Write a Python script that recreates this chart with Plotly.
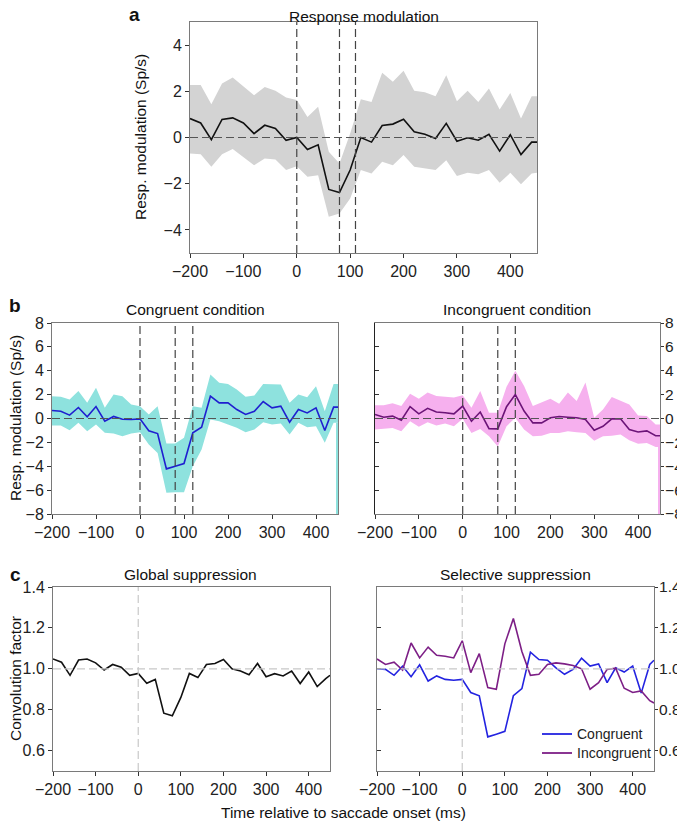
import plotly.graph_objects as go

# page body has an 8px margin: the figure is sized to fill the rest of the window
OFF = 8
W, H = 685 - OFF, 823 - OFF

# ---------------- data ----------------
time = [-200, -180, -160, -140, -120, -100, -80, -60, -40, -20, 0, 20, 40, 60, 80, 100,
        120, 140, 160, 180, 200, 220, 240, 260, 280, 300, 320, 340, 360, 380, 400, 420, 440, 450]

# panel a: response modulation (all trials)
a_mean = [0.82, 0.63, -0.09, 0.78, 0.85, 0.63, 0.17, 0.53, 0.39, -0.12, 0.0, -0.52, -0.32, -2.25, -2.38, -1.41,
          0.0, -0.2, 0.52, 0.58, 0.79, 0.25, 0.14, -0.04, 0.61, -0.16, -0.01, -0.12, 0.14, -0.59, 0.12, -0.74, -0.2, -0.2]
a_upper = [2.27, 2.27, 1.44, 2.34, 2.6, 2.22, 1.83, 2.19, 2.02, 1.73, 1.62, 0.89, 1.33, -0.62, -1.13, 0.17,
           1.66, 1.54, 2.8, 2.41, 2.89, 2.02, 1.96, 1.79, 2.7, 1.57, 2.02, 1.54, 2.12, 1.21, 1.93, 0.82, 1.79, 1.79]
a_lower = [-0.69, -0.72, -1.27, -0.72, -0.5, -0.84, -1.2, -0.91, -0.95, -1.41, -1.24, -1.7, -1.63, -3.43, -3.29, -2.64,
           -1.41, -1.56, -1.05, -1.2, -0.76, -1.27, -1.34, -1.41, -0.98, -1.67, -1.53, -1.59, -1.41, -1.96, -1.53, -2.02, -1.56, -1.53]

# panel b: congruent condition
con_mean = [0.67, 0.61, 0.28, 0.92, 0.14, 1.0, -0.22, 0.17, -0.06, -0.08, -0.03, -1.03, -1.26, -4.22, -4.0, -3.77,
            -1.2, -0.73, 1.87, 1.31, 1.31, 0.75, 0.34, 0.61, 1.42, 0.89, 1.03, -0.31, 0.75, 0.47, 0.89, -1.0, 0.95, 0.95]
con_upper = [1.87, 1.82, 1.6, 2.3, 1.31, 2.57, 0.9, 2.0, 1.87, 1.17, 1.03, 0.34, 1.03, -2.1, -2.1, -1.62,
             1.03, 0.9, 3.69, 3.0, 2.9, 2.43, 1.82, 1.93, 2.9, 2.85, 2.85, 1.31, 2.0, 1.79, 2.7, 0.61, 2.9, 2.9]
con_lower = [-0.59, -0.59, -0.98, -0.36, -1.06, -0.5, -1.2, -1.26, -1.48, -1.26, -1.15, -2.18, -2.88, -6.23, -6.17, -6.17,
             -4.0, -2.6, -0.08, -0.22, -0.5, -0.78, -1.15, -0.92, -0.31, -0.5, -0.42, -1.34, -0.36, -0.73, -0.64, -2.04, -0.36, -0.36]

# panel b: incongruent condition
inc_mean = [0.34, 0.11, 0.2, -0.14, 0.99, 0.39, 0.85, 0.54, 0.48, 0.39, 1.04, -0.23, 0.54, -0.85, -0.87, 0.99,
            2.0, 0.62, -0.37, -0.37, 0.06, 0.17, 0.11, 0.06, -0.08, -0.99, -0.65, -0.03, -0.03, -0.93, -1.13, -1.04, -1.44, -1.44]
inc_upper = [1.1, 1.1, 1.27, 1.04, 2.08, 1.66, 2.17, 1.89, 1.83, 1.75, 1.94, 0.9, 2.31, 0.48, 0.48, 2.65,
             4.0, 2.73, 1.04, 1.32, 1.66, 1.24, 2.17, 1.46, 3.01, 0.06, 0.76, 1.8, 1.52, 1.18, 0.25, 0.2, -0.51, -0.51]
inc_lower = [-0.93, -0.87, -0.79, -1.07, -0.23, -0.7, -0.31, -0.59, -0.42, -0.65, -0.03, -1.21, -0.87, -1.49, -2.34, -0.65,
             0.06, -0.93, -1.49, -1.44, -1.21, -1.21, -1.07, -1.15, -1.21, -1.86, -1.49, -1.44, -1.35, -1.83, -2.11, -2.06, -2.39, -2.39]

# panel c: convolution factors
glob = [1.048, 1.032, 0.968, 1.043, 1.048, 1.029, 0.994, 1.021, 1.008, 0.968, 0.977, 0.929, 0.948, 0.783, 0.77, 0.86,
        0.977, 0.957, 1.021, 1.026, 1.045, 1.0, 0.989, 0.971, 1.026, 0.961, 0.976, 0.965, 0.989, 0.928, 0.984, 0.913, 0.952, 0.968]
sel_con = [1.0, 0.997, 0.968, 1.013, 0.961, 1.019, 0.94, 0.965, 0.948, 0.944, 0.948, 0.884, 0.868, 0.667, 0.68, 0.694,
           0.868, 0.903, 1.081, 1.045, 1.042, 1.005, 0.973, 0.997, 1.052, 1.013, 1.024, 0.932, 1.005, 0.984, 1.013, 0.881, 1.021, 1.042]
sel_inc = [1.048, 1.021, 1.032, 0.994, 1.126, 1.053, 1.106, 1.066, 1.061, 1.053, 1.137, 0.981, 1.074, 0.908, 0.9, 1.122,
           1.246, 1.085, 0.968, 0.973, 1.021, 1.029, 1.024, 1.016, 1.0, 0.9, 0.932, 0.997, 1.003, 0.905, 0.884, 0.892, 0.844, 0.833]

series_names = ["Congruent", "Incongruent"]
series_colors = ["#2323e0", "#7d1f86"]

x_ticks = [-200, -100, 0, 100, 200, 300, 400]
a_yticks = [-4, -2, 0, 2, 4]
b_yticks = [-8, -6, -4, -2, 0, 2, 4, 6, 8]
c_yticks = [0.6, 0.8, 1.0, 1.2, 1.4]
a_events = [0, 80, 110]
b_events = [0, 80, 120]
a_range = [-5, 5]
b_range = [-8, 8]
c_range = [0.5, 1.4]

# ---------------- layout helpers ----------------
def px(x):
    return (x - OFF) / W

def py(y):
    return 1 - (y - OFF) / H

FONT = "Liberation Sans, Arial, Helvetica, sans-serif"
AXC = "#7a7a7a"
TICKC = "#333333"
TICKSIZE = 16
TITLESIZE = 15.5

fig = go.Figure()

def band(xa, ya, upper, lower, color):
    fig.add_trace(go.Scatter(x=time, y=upper, mode="lines", line=dict(width=0), xaxis=xa, yaxis=ya,
                             showlegend=False, hoverinfo="skip"))
    fig.add_trace(go.Scatter(x=time, y=lower, mode="lines", line=dict(width=0), fill="tonexty",
                             fillcolor=color, xaxis=xa, yaxis=ya, showlegend=False, hoverinfo="skip"))
    # the shaded band spills down to the axis floor at the last time point
    fig.add_trace(go.Scatter(x=[time[-1], time[-1]], y=[lower[-1], b_range[0]], mode="lines",
                             line=dict(color=color, width=4), xaxis=xa, yaxis=ya,
                             showlegend=False, hoverinfo="skip"))

def line(xa, ya, yv, color, name=None, width=1.6):
    fig.add_trace(go.Scatter(x=time, y=yv, mode="lines", line=dict(color=color, width=width),
                             xaxis=xa, yaxis=ya, name=name, showlegend=False, hoverinfo="skip"))

# panel a
fig.add_trace(go.Scatter(x=time, y=a_upper, mode="lines", line=dict(width=0), xaxis="x", yaxis="y",
                         showlegend=False, hoverinfo="skip"))
fig.add_trace(go.Scatter(x=time, y=a_lower, mode="lines", line=dict(width=0), fill="tonexty",
                         fillcolor="rgb(211,211,211)", xaxis="x", yaxis="y", showlegend=False, hoverinfo="skip"))
line("x", "y", a_mean, "#111111")
# panel b left
band("x2", "y2", con_upper, con_lower, "rgb(142,226,222)")
line("x2", "y2", con_mean, "#1f1fd0")
# panel b right
band("x3", "y3", inc_upper, inc_lower, "rgb(246,176,238)")
line("x3", "y3", inc_mean, "#6c1478")
# panel c left
line("x4", "y4", glob, "#111111")
# panel c right
line("x5", "y5", sel_con, series_colors[0], name=series_names[0])
line("x5", "y5", sel_inc, series_colors[1], name=series_names[1])
# helper traces for left-side inward tick axes of right panels
fig.add_trace(go.Scatter(x=[time[0]], y=[0], mode="markers", marker=dict(opacity=0), xaxis="x3", yaxis="y6",
                         showlegend=False, hoverinfo="skip"))
fig.add_trace(go.Scatter(x=[time[0]], y=[1.0], mode="markers", marker=dict(opacity=0), xaxis="x5", yaxis="y7",
                         showlegend=False, hoverinfo="skip"))

tickfont = dict(family=FONT, size=TICKSIZE, color="#222222")

def xax(dom, anchor):
    return dict(domain=dom, anchor=anchor, range=[-200, 450], tickvals=x_ticks, ticks="outside", ticklen=4,
                tickcolor=TICKC, showline=True, linecolor=AXC, linewidth=1, mirror=True, showgrid=False,
                zeroline=False, tickfont=tickfont)

def yax(dom, anchor, rng, tv, side="left", fmt=None):
    d = dict(domain=dom, anchor=anchor, range=rng, tickvals=tv, ticks="outside", ticklen=4,
             tickcolor=TICKC, showline=True, linecolor=AXC, linewidth=1, mirror=True, showgrid=False,
             zeroline=False, tickfont=tickfont, side=side)
    if fmt:
        d["tickformat"] = fmt
    if side == "right":
        d["ticklen"] = 3
        d["ticklabelstandoff"] = -2
        d["tickfont"] = dict(family=FONT, size=15.5, color="#222222")
    return d

dom_a_x = [px(190), px(537)]
dom_a_y = [py(253), py(22)]
dom_bl_x = [px(52), px(338)]
dom_br_x = [px(375), px(660)]
dom_b_y = [py(514), py(323)]
dom_cl_x = [px(53), px(330)]
dom_cr_x = [px(377), px(654)]
dom_c_y = [py(771), py(587)]

fig.update_layout(
    xaxis=xax(dom_a_x, "y"), yaxis=yax(dom_a_y, "x", a_range, a_yticks),
    xaxis2=xax(dom_bl_x, "y2"), yaxis2=yax(dom_b_y, "x2", b_range, b_yticks),
    xaxis3=xax(dom_br_x, "y3"), yaxis3=yax(dom_b_y, "x3", b_range, b_yticks, side="right"),
    xaxis4=xax(dom_cl_x, "y4"), yaxis4=yax(dom_c_y, "x4", c_range, c_yticks, fmt=".1f"),
    xaxis5=xax(dom_cr_x, "y5"), yaxis5=yax(dom_c_y, "x5", c_range, c_yticks, side="right", fmt=".1f"),
    yaxis6=dict(overlaying="y3", side="left", anchor="x3", range=b_range, tickvals=b_yticks, ticks="inside",
                ticklen=4, tickcolor=TICKC, showticklabels=False, showline=True, linecolor="#222222",
                showgrid=False, zeroline=False),
    yaxis7=dict(overlaying="y5", side="left", anchor="x5", range=c_range, tickvals=c_yticks, ticks="inside",
                ticklen=4, tickcolor=TICKC, showticklabels=False, showline=True, linecolor=AXC,
                showgrid=False, zeroline=False),
)

shapes = []
DASH = "8px,4px"
def vdash(xref, yref, xv, color, width=1.2):
    shapes.append(dict(type="line", xref=xref, yref=yref + " domain", x0=xv, x1=xv, y0=0, y1=1,
                       line=dict(color=color, width=width, dash=DASH)))

def hdash(xref, yref, yv, color, width=1.2):
    shapes.append(dict(type="line", xref=xref + " domain", yref=yref, x0=0, x1=1, y0=yv, y1=yv,
                       line=dict(color=color, width=width, dash=DASH)))

for e in a_events:
    vdash("x", "y", e, "#444444")
hdash("x", "y", 0, "#555555")
for xr, yr in [("x2", "y2"), ("x3", "y3")]:
    for e in b_events:
        vdash(xr, yr, e, "#444444")
    hdash(xr, yr, 0, "#555555")
for xr, yr in [("x4", "y4"), ("x5", "y5")]:
    vdash(xr, yr, 0, "#c8c8c8")
    hdash(xr, yr, 1.0, "#c8c8c8")

ann = []
def text(x, y, s, size=TITLESIZE, bold=False, angle=0, xanchor="center"):
    ann.append(dict(xref="paper", yref="paper", x=px(x), y=py(y), text=("<b>%s</b>" % s) if bold else s,
                    showarrow=False, font=dict(family=FONT, size=size, color="#111111"), textangle=angle,
                    xanchor=xanchor, yanchor="middle"))

# legend of panel c (right): key line + label per series
legend_rows = [734, 753]
for name, color, yrow in zip(series_names, series_colors, legend_rows):
    shapes.append(dict(type="line", xref="paper", yref="paper", x0=px(542), x1=px(572), y0=py(yrow), y1=py(yrow),
                       line=dict(color=color, width=1.8)))
    ann.append(dict(xref="paper", yref="paper", x=px(575), y=py(yrow), text=name, showarrow=False,
                    font=dict(family=FONT, size=14, color="#222222"), xanchor="left", yanchor="middle"))

fig.update_layout(shapes=shapes)

text(364, 16, "Response modulation")
text(195, 309, "Congruent condition")
text(517, 309, "Incongruent condition")
text(191, 574, "Global suppression")
text(515, 574, "Selective suppression")
text(134, 15, "a", size=19, bold=True)
text(15, 305, "b", size=19, bold=True)
text(15, 574, "c", size=19, bold=True)
text(141, 137, "Resp. modulation (Sp/s)", angle=-90)
text(15, 418, "Resp. modulation (Sp/s)", angle=-90)
text(15, 679, "Convolution factor", angle=-90)
text(343, 812, "Time relative to saccade onset (ms)")

fig.update_layout(
    annotations=ann,
    width=W, height=H,
    margin=dict(l=0, r=0, t=0, b=0, autoexpand=False),
    paper_bgcolor="white", plot_bgcolor="white",
    font=dict(family=FONT, size=14, color="#222222"),
    showlegend=False,
)

fig.write_html("out.html")
